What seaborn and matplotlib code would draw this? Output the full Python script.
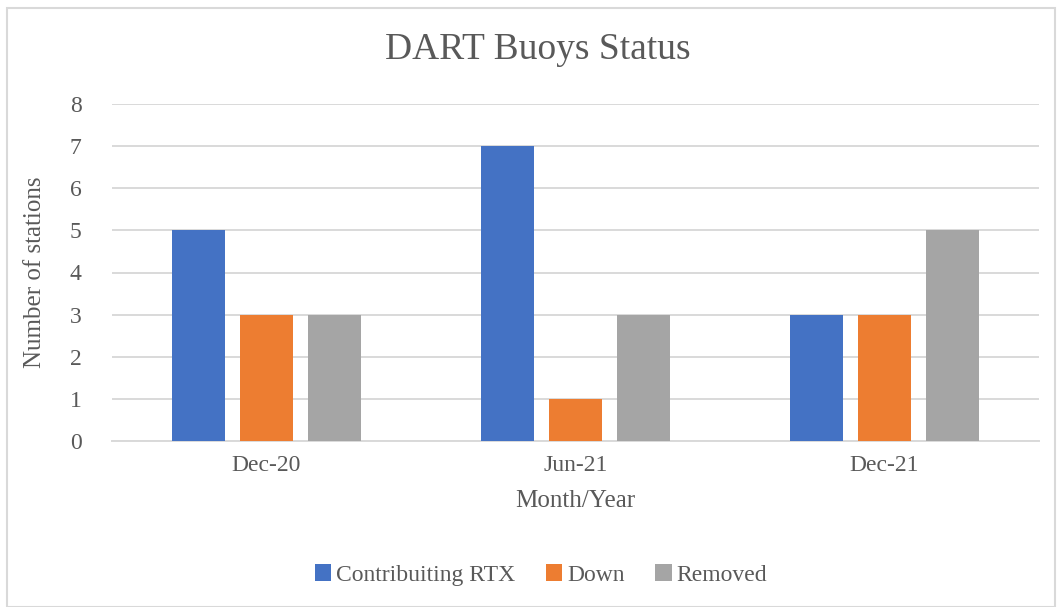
import matplotlib
matplotlib.use("Agg")
import matplotlib.pyplot as plt
import pandas as pd
import seaborn as sns
from matplotlib.patches import Rectangle

# Données
mois = ["Dec-20", "Jun-21", "Dec-21"]
contributing_rtx = [5, 7, 3]
down = [3, 1, 3]
removed = [3, 3, 5]
series = ["Contribuiting RTX", "Down", "Removed"]
couleurs = ["#4472C4", "#ED7D31", "#A5A5A5"]

df = pd.DataFrame({
    "Month/Year": mois * 3,
    "value": contributing_rtx + down + removed,
    "serie": [s for s in series for _ in mois],
})

sns.set_theme(style="white")
plt.rcParams["font.family"] = ["Liberation Serif", "DejaVu Serif"]
TXT = "#595959"

fig = plt.figure(figsize=(10.57, 6.07), dpi=100)
ax = fig.add_axes([112 / 1057, 1 - 441 / 607, (1039 - 112) / 1057, (441 - 104) / 607])

sns.barplot(data=df, x="Month/Year", y="value", hue="serie", palette=couleurs,
            width=0.66, gap=0.22, ax=ax, saturation=1, legend=True, zorder=3,
            linewidth=0, edgecolor="none")

ax.set_ylim(0, 8)
ax.set_yticks(range(0, 9))
ax.set_xlim(-0.5, 2.5)
ax.yaxis.grid(True, color="#D9D9D9", linewidth=1.4, zorder=0)
ax.set_axisbelow(True)
for s in ["top", "right", "left"]:
    ax.spines[s].set_visible(False)
ax.spines["bottom"].set_color("#D9D9D9")
ax.spines["bottom"].set_linewidth(1.4)
ax.tick_params(axis="both", length=0, labelsize=17, labelcolor=TXT)
ax.tick_params(axis="x", pad=10)
ax.tick_params(axis="y", pad=22)
ax.set_xlabel("Month/Year", fontsize=18, color=TXT, labelpad=10)
ax.set_ylabel("Number of stations", fontsize=18, color=TXT, labelpad=17)

fig.text(538 / 1057, 1 - 50 / 607, "DART Buoys Status", ha="center", va="center",
         fontsize=27, color=TXT)

leg = ax.legend(loc="center", bbox_to_anchor=(541 / 1057, 1 - 575 / 607),
                bbox_transform=fig.transFigure, ncol=3, frameon=False,
                fontsize=17, handlelength=0.7, handleheight=0.7,
                handletextpad=0.2, columnspacing=1.3)
for t in leg.get_texts():
    t.set_color(TXT)

# cadre du graphique
fig.patches.append(Rectangle((7 / 1057, 0), 1 - 7 / 1057 - 0.002, 1 - 8 / 607,
                             transform=fig.transFigure, fill=False,
                             edgecolor="#D9D9D9", linewidth=1.5))

fig.savefig("out.png", dpi=100)
plt.close(fig)
